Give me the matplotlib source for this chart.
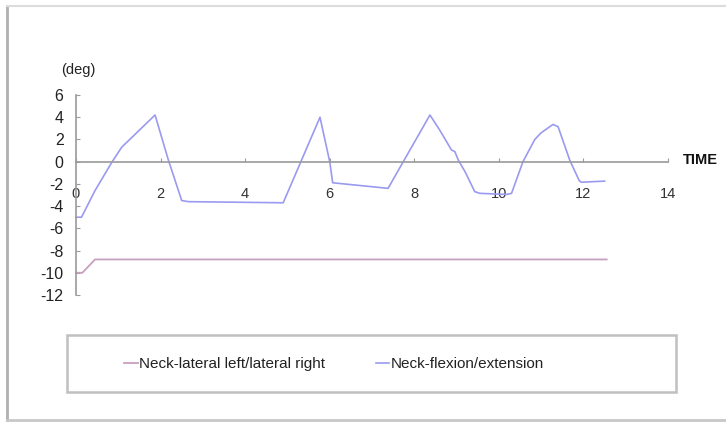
import matplotlib
matplotlib.use("Agg")
import matplotlib.pyplot as plt
from matplotlib.patches import Rectangle
from matplotlib.lines import Line2D

# ---- data ----
flex_t = [0, 0.13, 0.45, 0.84, 1.08, 1.87, 2.18, 2.5, 2.66, 4.9, 5.77, 6.0, 6.07, 7.38,
          8.37, 8.6, 8.88, 8.96, 9.04, 9.2, 9.43, 9.55, 10.18, 10.3, 10.57, 10.85, 11.0,
          11.28, 11.4, 11.68, 11.9, 11.95, 12.5]
flex_v = [-5.0, -5.0, -2.6, -0.1, 1.3, 4.2, 0.2, -3.5, -3.6, -3.7, 4.0, 0.0, -1.9, -2.4,
          4.2, 2.85, 1.05, 0.9, 0.15, -0.9, -2.7, -2.85, -2.95, -2.85, 0.0, 2.0, 2.6,
          3.35, 3.15, 0.1, -1.7, -1.85, -1.75]
lat_t = [0, 0.15, 0.45, 12.55]
lat_v = [-10.0, -10.0, -8.8, -8.8]

series_names = ["Neck-lateral left/lateral right", "Neck-flexion/extension"]
x_ticks = [0, 2, 4, 6, 8, 10, 12, 14]
y_ticks = [6, 4, 2, 0, -2, -4, -6, -8, -10, -12]

lat_color = "#c79fbf"
flex_color = "#9a9af0"

plt.rcParams['font.family'] = ['Liberation Sans', 'DejaVu Sans']

fig = plt.figure(figsize=(7.26, 4.25), dpi=100)
W, H = 726, 425

def fx(px):
    return px / W

def fy(py):
    return 1 - py / H

ax = fig.add_axes([fx(76), fy(295), fx(668) - fx(76), fy(95) - fy(295)])
ax.set_xlim(0, 14)
ax.set_ylim(-12, 6)
ax.patch.set_alpha(0)

ax.plot(lat_t, lat_v, color=lat_color, lw=1.3, label=series_names[0], clip_on=False)
ax.plot(flex_t, flex_v, color=flex_color, lw=1.2, label=series_names[1], clip_on=False)

for s in ['top', 'right']:
    ax.spines[s].set_visible(False)
ax.spines['bottom'].set_position(('data', 0))
ax.spines['bottom'].set_color('#9a9a9a')
ax.spines['left'].set_color('#9a9a9a')
ax.spines['bottom'].set_linewidth(1.2)
ax.spines['left'].set_linewidth(1.2)

ax.set_xticks(x_ticks)
ax.set_yticks(y_ticks)
ax.set_xticklabels([str(v) for v in x_ticks])
ax.set_yticklabels([str(v) for v in y_ticks])
ax.tick_params(axis='x', direction='in', length=3, color='#9a9a9a', pad=18,
               labelsize=10.5, labelcolor='#333333')
ax.tick_params(axis='y', direction='in', length=3, color='#9a9a9a', pad=9,
               labelsize=11.5, labelcolor='#222222')

fig.text(fx(78), fy(70), "(deg)", ha='center', va='center', fontsize=10.5, color='#222222')
fig.text(fx(683), fy(160), "TIME", ha='left', va='center', fontsize=10.5,
         fontweight='bold', color='#111111')

# legend box
fig.patches.append(Rectangle((fx(67), fy(392)), fx(676) - fx(67), fy(335) - fy(392),
                             transform=fig.transFigure, fill=False,
                             edgecolor='#c0c0c0', lw=1.8))
handles, labels = ax.get_legend_handles_labels()
fig.legend(handles, labels, loc='center', bbox_to_anchor=(fx(334), fy(364)),
           ncol=2, frameon=False, fontsize=11, handlelength=0.9,
           handletextpad=0.1, columnspacing=3.3, labelcolor='#222222')

# chart-area border
fig.add_artist(Line2D([fx(7), fx(7)], [fy(420), fy(6)], transform=fig.transFigure,
                      color='#b0b0b0', lw=2))
fig.add_artist(Line2D([fx(7), fx(726)], [fy(420), fy(420)], transform=fig.transFigure,
                      color='#c8c8c8', lw=2))
fig.add_artist(Line2D([fx(7), fx(726)], [fy(6), fy(6)], transform=fig.transFigure,
                      color='#dcdcdc', lw=1.5))

fig.savefig("out.png", dpi=100)
